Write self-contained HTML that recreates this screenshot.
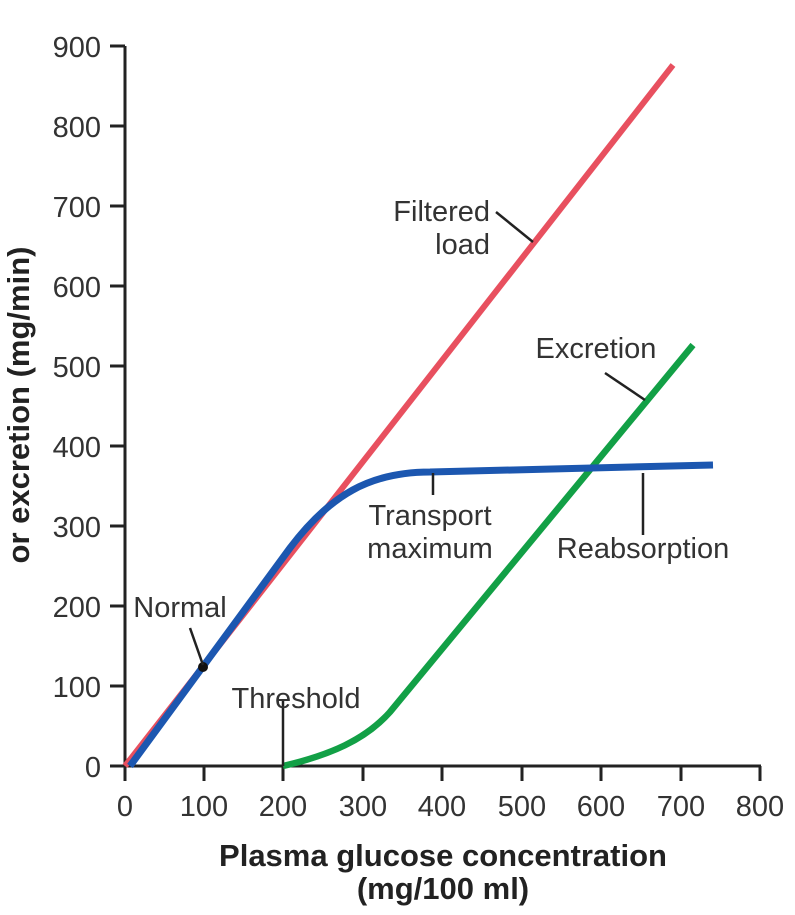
<!DOCTYPE html>
<html><head><style>
html,body{margin:0;padding:0;background:#fff;}
svg{display:block;font-family:"Liberation Sans",sans-serif;}
</style></head><body>
<svg width="795" height="915" viewBox="0 0 795 915">
<g stroke="#222" stroke-width="3" fill="none">
<path d="M125,46 V766 H761"/>
<path d="M110,46H125M110,126H125M110,206H125M110,286H125M110,366H125M110,446H125M110,526H125M110,606H125M110,686H125M110,766H125"/>
<path d="M125,766V781M204,766V781M283,766V781M363,766V781M442,766V781M522,766V781M601,766V781M681,766V781M760,766V781"/>
</g>
<g font-size="29" fill="#333" text-anchor="end">
<text x="101" y="57">900</text><text x="101" y="137">800</text><text x="101" y="217">700</text>
<text x="101" y="297">600</text><text x="101" y="377">500</text><text x="101" y="457">400</text>
<text x="101" y="537">300</text><text x="101" y="617">200</text><text x="101" y="697">100</text>
<text x="101" y="777">0</text>
</g>
<g font-size="29" fill="#333" text-anchor="middle">
<text x="125" y="816">0</text><text x="204" y="816">100</text><text x="283" y="816">200</text>
<text x="363" y="816">300</text><text x="442" y="816">400</text><text x="522" y="816">500</text>
<text x="601" y="816">600</text><text x="681" y="816">700</text><text x="760" y="816">800</text>
</g>
<text x="443" y="866" font-size="31" font-weight="bold" fill="#222" text-anchor="middle">Plasma glucose concentration</text>
<text x="443" y="899" font-size="31" font-weight="bold" fill="#222" text-anchor="middle">(mg/100 ml)</text>
<text transform="translate(29,405) rotate(-90)" font-size="31" font-weight="bold" fill="#222" text-anchor="middle">or excretion (mg/min)</text>
<path d="M125,766 L673,65" stroke="#e8505f" stroke-width="6" fill="none"/>
<path d="M283,766 C330,755 365,740 390,712 L693,345" stroke="#12a046" stroke-width="6.5" fill="none"/>
<path d="M130,766 L290,548 C330,495 370,472 430,472 L713,465" stroke="#1c57b0" stroke-width="7" fill="none"/>
<circle cx="203" cy="667" r="5" fill="#111"/>
<g stroke="#222" stroke-width="2.5" fill="none">
<path d="M283,700V766"/>
<path d="M190,628L203,665"/>
<path d="M433,473V495"/>
<path d="M643,473V535"/>
<path d="M605,373L645,400"/>
<path d="M496,212L533,242"/>
</g>
<g font-size="29" fill="#333">
<text x="296" y="708" text-anchor="middle">Threshold</text>
<text x="180" y="617" text-anchor="middle">Normal</text>
<text x="430" y="525" text-anchor="middle">Transport</text>
<text x="430" y="558" text-anchor="middle">maximum</text>
<text x="643" y="558" text-anchor="middle">Reabsorption</text>
<text x="596" y="358" text-anchor="middle">Excretion</text>
<text x="490" y="221" text-anchor="end">Filtered</text>
<text x="490" y="254" text-anchor="end">load</text>
</g>
</svg>
</body></html>
